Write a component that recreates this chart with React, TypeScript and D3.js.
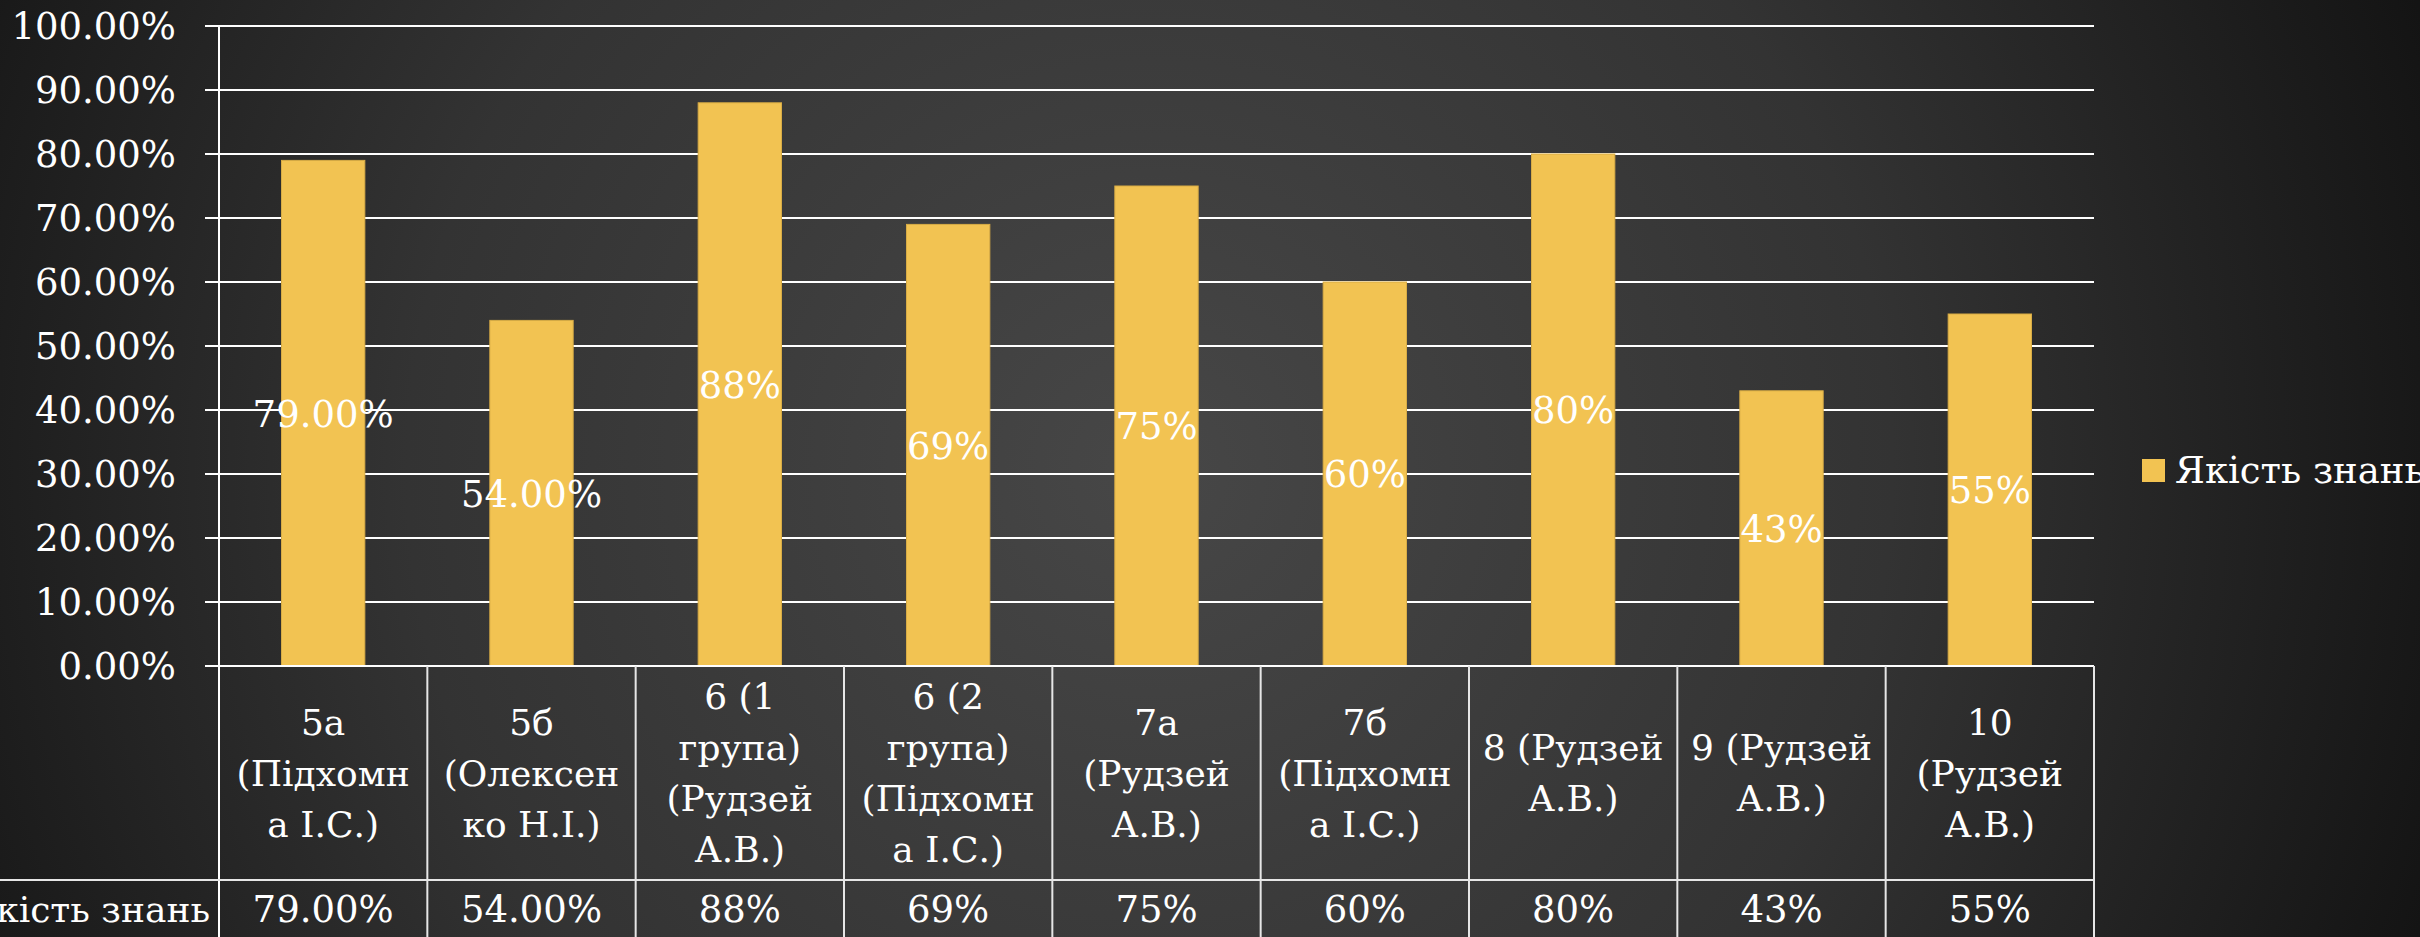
import React from "react";
import * as d3 from "d3";

const categories: string[][] = [
  ["5а", "(Підхомн", "а І.С.)"],
  ["5б", "(Олексен", "ко Н.І.)"],
  ["6 (1", "група)", "(Рудзей", "А.В.)"],
  ["6 (2", "група)", "(Підхомн", "а І.С.)"],
  ["7а", "(Рудзей", "А.В.)"],
  ["7б", "(Підхомн", "а І.С.)"],
  ["8 (Рудзей", "А.В.)"],
  ["9 (Рудзей", "А.В.)"],
  ["10", "(Рудзей", "А.В.)"],
];
const values = [0.79, 0.54, 0.88, 0.69, 0.75, 0.6, 0.8, 0.43, 0.55];
const valueLabels = ["79.00%", "54.00%", "88%", "69%", "75%", "60%", "80%", "43%", "55%"];
const seriesName = "Якість знань";
const yTicks = d3.range(0, 1.0001, 0.1);

const W = 2420;
const H = 937;
const FONT = "'DejaVu Serif', serif";
const BAR = "#F2C352";

export default function App() {
  const left = 219;
  const right = 2094;
  const top = 26;
  const bottom = 666;
  const rowSplit = 880;

  const keys = categories.map((c, i) => String(i));
  const x = d3.scaleBand<string>().domain(keys).range([left, right]).paddingInner(0).paddingOuter(0);
  const y = d3.scaleLinear().domain([0, 1]).range([bottom, top]);
  const fmt = d3.format(".2%");
  const bw = x.bandwidth();
  const barW = bw * 0.4;
  const lineH = 51;
  const catMid = (bottom + rowSplit) / 2;

  return (
    <svg width={W} height={H} style={{ position: "absolute", left: 0, top: 0 }} fontFamily={FONT}>
      <defs>
        <radialGradient id="bg" gradientUnits="userSpaceOnUse" cx={1150} cy={470} r={1350}>
          <stop offset="0" stopColor="#474747" />
          <stop offset="0.55" stopColor="#333333" />
          <stop offset="1" stopColor="#141414" />
        </radialGradient>
      </defs>
      <rect width={W} height={H} fill="url(#bg)" />

      {/* gridlines + y ticks */}
      {yTicks.map((t) => (
        <g key={t}>
          <line x1={205} x2={right} y1={y(t)} y2={y(t)} stroke="#ffffff" strokeWidth={2} />
          <text x={176} y={y(t)} dy="0.36em" textAnchor="end" fill="#fff" fontSize={37}>
            {fmt(t)}
          </text>
        </g>
      ))}

      {/* bars */}
      {values.map((v, i) => {
        const cx = x(String(i))! + bw / 2;
        return (
          <g key={i}>
            <rect x={cx - barW / 2} y={y(v)} width={barW} height={y(0) - y(v)} fill={BAR} stroke="#d8ac45" strokeWidth={1} />
            <text x={cx} y={(y(v) + y(0)) / 2} dy="0.36em" textAnchor="middle" fill="#fff" fontSize={37}>
              {valueLabels[i]}
            </text>
          </g>
        );
      })}

      {/* axis + table lines */}
      <line x1={left} x2={left} y1={top} y2={H} stroke="#fff" strokeWidth={2} />
      <line x1={205} x2={right} y1={bottom} y2={bottom} stroke="#fff" strokeWidth={2} />
      <line x1={0} x2={right} y1={rowSplit} y2={rowSplit} stroke="#e6e6e6" strokeWidth={2} />
      {keys.map((k) => (
        <line key={k} x1={x(k)! + bw} x2={x(k)! + bw} y1={bottom} y2={H} stroke="#e6e6e6" strokeWidth={2} />
      ))}

      {/* category labels */}
      {categories.map((lines, i) => {
        const cx = x(String(i))! + bw / 2;
        const y0 = catMid - ((lines.length - 1) * lineH) / 2;
        return (
          <text key={i} textAnchor="middle" fill="#fff" fontSize={36}>
            {lines.map((l, j) => (
              <tspan key={j} x={cx} y={y0 + j * lineH} dy="0.36em">
                {l}
              </tspan>
            ))}
          </text>
        );
      })}

      {/* value row */}
      <text x={210} y={909} dy="0.36em" textAnchor="end" fill="#fff" fontSize={36}>
        {seriesName}
      </text>
      {valueLabels.map((l, i) => (
        <text key={i} x={x(String(i))! + bw / 2} y={909} dy="0.36em" textAnchor="middle" fill="#fff" fontSize={37}>
          {l}
        </text>
      ))}

      {/* legend */}
      <rect x={2142} y={459} width={23} height={23} fill={BAR} />
      <text x={2175} y={470} dy="0.36em" fill="#fff" fontSize={37}>
        {seriesName}
      </text>
    </svg>
  );
}
